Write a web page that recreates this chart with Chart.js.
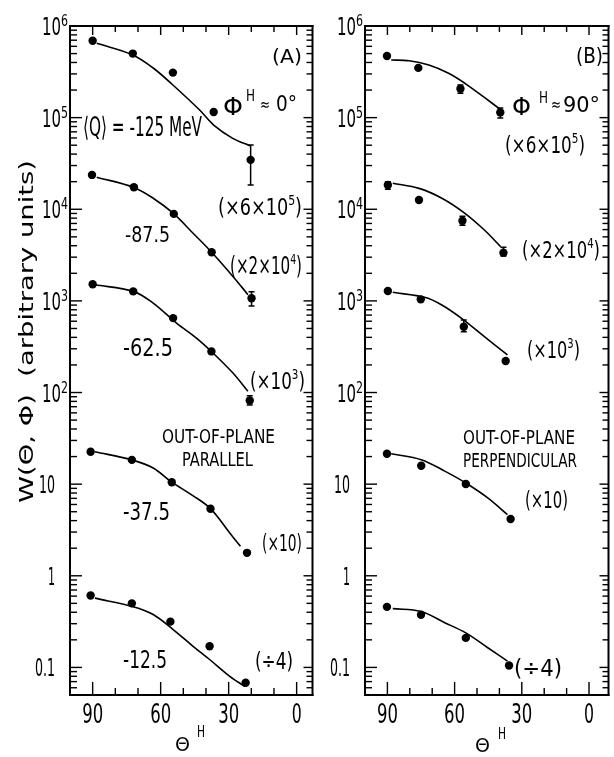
<!DOCTYPE html>
<html><head><meta charset="utf-8">
<script src="https://cdn.jsdelivr.net/npm/chart.js@4.4.1/dist/chart.umd.min.js"></script>
<style>
html,body{margin:0;padding:0;background:#fff;}
#wrap{position:relative;width:614px;height:757px;overflow:hidden;background:#fff;}
canvas{position:absolute;top:0;}
#ca{left:0;} #cb{left:318px;}
</style></head><body>
<div id="wrap"><canvas id="ca" width="318" height="757"></canvas><canvas id="cb" width="296" height="757"></canvas></div>
<script>
// ---------- DATA: panel (A) out-of-plane parallel, Phi^H ~ 0 deg ----------
const aQ = ['-125', '-87.5', '-62.5', '-37.5', '-12.5'];
const aAng1 = [90, 72.3, 54.6, 36.6, 20.3];
const aVal1 = [6.9e5, 5.0e5, 3.1e5, 1.15e5, 3.46e4];
const aAng2 = [90.3, 71.8, 54.2, 37.5, 19.9];
const aVal2 = [2.37e4, 1.74e4, 8.9e3, 3.4e3, 1.07e3];
const aAng3 = [90, 72.1, 54.5, 37.6, 20.7];
const aVal3 = [1520, 1270, 649, 281, 82];
const aAng4 = [90.9, 72.7, 55.1, 38.0, 21.9];
const aVal4 = [22.6, 18.4, 10.5, 5.4, 1.78];
const aAng5 = [90.9, 72.7, 55.7, 38.4, 22.5];
const aVal5 = [0.61, 0.50, 0.316, 0.17, 0.068];
// fitted curves
const aCAng1 = [88.2, 72.3, 63.3, 54.6, 42.8, 36.6, 28.2, 20.7];
const aCVal1 = [6.47e5, 4.83e5, 3.48e5, 2.27e5, 1.21e5, 8.3e4, 5.94e4, 4.94e4];
const aCAng2 = [88.2, 72.1, 63.3, 54.5, 45.7, 37.5, 28.1, 21.5];
const aCVal2 = [2.24e4, 1.74e4, 1.32e4, 9.06e3, 5.48e3, 3.4e3, 1.85e3, 1.17e3];
const aCAng3 = [89.0, 72.1, 63.3, 53.0, 44.2, 36.9, 28.1, 21.5];
const aCVal3 = [1500, 1270, 946, 573, 393, 270, 163, 103];
const aCAng4 = [89.0, 72.7, 63.3, 55.1, 45.8, 38.0, 29.5, 24.8];
const aCVal4 = [22.6, 18.4, 15.0, 10.5, 7.5, 5.4, 2.93, 2.10];
const aCAng5 = [89.0, 72.1, 63.3, 54.5, 45.7, 38.4, 29.5, 22.9];
const aCVal5 = [0.57, 0.46, 0.378, 0.259, 0.170, 0.122, 0.080, 0.062];
// error bars
const aErrAng = [20.3, 19.9, 20.7];
const aErrLo = [1.84e4, 880, 73];
const aErrHi = [5.02e4, 1260, 92];

// ---------- DATA: panel (B) out-of-plane perpendicular, Phi^H ~ 90 deg ----------
const bAng1 = [90.2, 76.2, 57.4, 39.6];
const bVal1 = [4.71e5, 3.49e5, 2.07e5, 1.14e5];
const bAng2 = [89.8, 75.9, 56.5, 38.2];
const bVal2 = [1.84e4, 1.26e4, 7.5e3, 3.36e3];
const bAng3 = [89.8, 75.1, 55.9, 37.2];
const bVal3 = [1280, 1040, 522, 221];
const bAng4 = [90.2, 74.9, 55.0, 35.0];
const bVal4 = [21.5, 15.9, 10.05, 4.17];
const bAng5 = [90.2, 75.0, 55.0, 35.7];
const bVal5 = [0.458, 0.375, 0.210, 0.105];
const bCAng1 = [88.3, 80.3, 71.5, 62.7, 55.4, 46.7, 38.6];
const bCVal1 = [4.26e5, 4.18e5, 3.75e5, 3.05e5, 2.37e5, 1.66e5, 1.18e5];
const bCAng2 = [87.6, 75.9, 65.7, 55.4, 46.7, 39.4];
const bCVal2 = [1.92e4, 1.69e4, 1.32e4, 9.04e3, 5.94e3, 3.9e3];
const bCAng3 = [87.6, 73.0, 65.7, 56.9, 46.7, 36.4];
const bCVal3 = [1240, 1090, 902, 645, 407, 257];
const bCAng4 = [88.3, 74.9, 64.2, 55.0, 45.2, 36.4];
const bCVal4 = [21.5, 18.5, 13.8, 10.3, 7.08, 4.65];
const bCAng5 = [87.6, 75.0, 64.2, 55.0, 45.2, 36.4];
const bCVal5 = [0.438, 0.407, 0.306, 0.238, 0.164, 0.117];
const bErrAng = [57.4, 39.6, 89.8, 56.5, 38.2, 55.9];
const bErrLo = [1.84e5, 0.99e5, 1.65e4, 6.7e3, 3.09e3, 461];
const bErrHi = [2.27e5, 1.27e5, 2.0e4, 8.4e3, 3.85e3, 620];

// ticks
const xTicks = [90, 60, 30, 0];
const yTicks = [0.1, 1, 10, 100, 1e3, 1e4, 1e5, 1e6];

const FAM = "'Liberation Sans Narrow','DejaVu Sans Condensed','Liberation Sans','DejaVu Sans',sans-serif";

function pts(xs, ys){ return xs.map((v,i)=>({x:v, y:ys[i]})); }
function curveDs(xs, ys){ return {data:pts(xs,ys), showLine:true, borderColor:'#000', borderWidth:1.6, pointRadius:0, tension:0.35, fill:false, order:2}; }
function pointDs(xs, ys){ return {data:pts(xs,ys), showLine:false, pointRadius:4.2, pointBackgroundColor:'#000', pointBorderWidth:0, borderColor:'#000', order:1}; }
function errDs(a, lo, hi){ return {data:[{x:a,y:lo},{x:a,y:hi}], showLine:true, borderColor:'#000', borderWidth:1.5, pointStyle:'line', pointRadius:3, pointBorderWidth:1.5, pointBorderColor:'#000', order:0}; }

function drawRich(ctx, it){
  let total = 0; const segs = [];
  for (const p of it.parts){
    const sz = p.sup ? (it.supSize || it.size*0.62) : it.size;
    ctx.font = sz + 'px ' + FAM;
    const w = ctx.measureText(p.t).width;
    segs.push({t:p.t, sup:p.sup, sz, w}); total += w;
  }
  const sx = it.w ? it.w/total : (it.sx || 1);
  const tw = total*sx;
  let x0 = it.x;
  if (it.align === 'center') x0 = it.x - tw/2;
  else if (it.align === 'right') x0 = it.x - tw;
  ctx.save();
  ctx.translate(x0, it.y);
  if (it.rot) ctx.rotate(it.rot);
  ctx.scale(sx, 1);
  ctx.textBaseline = 'alphabetic'; ctx.textAlign = 'left';
  let cx = 0;
  for (const s of segs){
    ctx.font = s.sz + 'px ' + FAM;
    ctx.fillText(s.t, cx, s.sup ? -(it.supRaise || it.size*0.42) : 0);
    cx += s.w;
  }
  ctx.restore();
}

const decor = {
  id:'decor',
  afterDraw(chart, args, o){
    const ctx = chart.ctx, ca = chart.chartArea;
    const xs = chart.scales.x, ys = chart.scales.y;
    ctx.save();
    ctx.fillStyle = '#000';
    const L = ca.left, R = ca.right, Tp = ca.top, B = ca.bottom;
    ctx.fillRect(L-1, Tp-1, R-L+2, 2);
    ctx.fillRect(L-1, B-1, R-L+2, 2);
    ctx.fillRect(L-1, Tp-1, 2, B-Tp+2);
    ctx.fillRect(R-1, Tp-1, 2, B-Tp+2);
    for (let d=-2; d<=6; d++){
      for (let m=1; m<=9; m++){
        const v = m*Math.pow(10,d);
        if (v < 0.0499 || v > 1.001e6) continue;
        const py = ys.getPixelForValue(v);
        const lenL = (m===1) ? 12 : 7, lenR = (m===1) ? 9 : 6;
        ctx.fillRect(L, py-0.7, lenL, 1.4);
        ctx.fillRect(R-lenR, py-0.7, lenR, 1.4);
      }
    }
    for (let v=0; v<=90; v+=10){
      const px = xs.getPixelForValue(v);
      const major = (v%30===0);
      ctx.fillRect(px-0.7, B-(major?13:7), 1.4, major?13:7);
      ctx.fillRect(px-0.7, Tp, 1.4, major?9:6);
    }
    for (const v of xTicks){
      drawRich(ctx, {parts:[{t:String(v)}], x:xs.getPixelForValue(v), y:B+28, size:27, w:(v<10?10:21), align:'center'});
    }
    for (const v of yTicks){
      const e = Math.round(Math.log10(v));
      const py = ys.getPixelForValue(v);
      if (e >= 2){
        drawRich(ctx, {parts:[{t:'10'}], x:L-9, y:py+9, size:25, w:19, align:'right'});
        drawRich(ctx, {parts:[{t:String(e)}], x:L-9, y:py, size:15, w:7});
      } else {
        const s = e===-1 ? '0.1' : e===0 ? '1' : '10';
        const w = e===-1 ? 20 : e===0 ? 7 : 16;
        drawRich(ctx, {parts:[{t:s}], x:L-15, y:py+9, size:25, w, align:'right'});
      }
    }
    for (const it of o.texts) drawRich(ctx, it);
    ctx.restore();
  }
};

function T(t, x, y, size, w, extra){ return Object.assign({parts:typeof t==='string'?[{t}]:t, x, y, size, w}, extra||{}); }

function makeChart(id, series, errs, xmin, yW, padRight, texts){
  const datasets = [];
  for (const s of series){ datasets.push(curveDs(s.ca, s.cv)); datasets.push(pointDs(s.a, s.v)); }
  for (let i=0;i<errs.a.length;i++) datasets.push(errDs(errs.a[i], errs.lo[i], errs.hi[i]));
  return new Chart(document.getElementById(id), {
    type:'line',
    data:{datasets},
    options:{
      responsive:false, animation:false, devicePixelRatio:1,
      layout:{padding:{top:26, right:padRight, left:0, bottom:0}},
      plugins:{legend:{display:false}, tooltip:{enabled:false}, decor:{texts}},
      scales:{
        x:{type:'linear', reverse:true, min:xmin, max:100,
           grid:{display:false, drawTicks:false}, border:{display:false},
           afterBuildTicks:(s)=>{ s.ticks = xTicks.map(value=>({value})); },
           afterFit:(s)=>{ s.height = 62; },
           ticks:{display:false}},
        y:{type:'logarithmic', min:0.05, max:1e6,
           grid:{display:false, drawTicks:false}, border:{display:false},
           afterBuildTicks:(s)=>{ s.ticks = yTicks.map(value=>({value})); },
           afterFit:(s)=>{ s.width = yW; },
           ticks:{display:false}}
      }
    },
    plugins:[decor]
  });
}

const sup = (t)=>({t, sup:true});
const textsA = [
  T('(A)', 272, 63, 20, 30),
  T('\u03A6', 223, 115, 25, 20), T('H', 246, 101, 16, 9), T('\u2248', 260, 110, 16, 10), T('0\u00B0', 276, 111, 22, 21),
  T('\u27E8Q\u27E9 = ' + aQ[0] + ' MeV', 83, 136, 27, 119),
  T([{t:'(\u00D76\u00D710'}, sup('5'), {t:')'}], 218, 215, 23, 84),
  T(aQ[1], 125, 242, 22, 45),
  T([{t:'(\u00D72\u00D710'}, sup('4'), {t:')'}], 230, 274, 24, 72),
  T(aQ[2], 123, 356, 25, 50),
  T([{t:'(\u00D710'}, sup('3'), {t:')'}], 250, 389, 23, 55),
  T('OUT-OF-PLANE', 162, 443, 20, 113),
  T('PARALLEL', 182, 466, 20, 71),
  T(aQ[3], 123, 520, 24, 47),
  T('(\u00D710)', 262, 551, 23, 40),
  T(aQ[4], 123, 668, 24, 44),
  T('(\u00F74)', 255, 669, 23, 38),
  T('\u0398', 175, 751, 19, 15), T('H', 197, 737, 16, 8),
  T('W(\u0398, \u03A6)  (arbitrary units)', 33, 503, 20, 343, {rot:-Math.PI/2})
];
const BX = 318;
const textsB = [
  T('(B)', 576-BX, 63, 21, 27),
  T('\u03A6', 512-BX, 115, 25, 19), T('H', 539-BX, 103, 16, 9), T('\u2248', 551-BX, 110, 16, 10), T('90\u00B0', 563-BX, 112, 22, 37),
  T([{t:'(\u00D76\u00D710'}, sup('5'), {t:')'}], 505-BX, 153, 23, 80),
  T([{t:'(\u00D72\u00D710'}, sup('4'), {t:')'}], 522-BX, 258, 23, 78),
  T([{t:'(\u00D710'}, sup('3'), {t:')'}], 527-BX, 358, 23, 53),
  T('OUT-OF-PLANE', 463-BX, 444, 20, 112),
  T('PERPENDICULAR', 463-BX, 467, 20, 114),
  T('(\u00D710)', 525-BX, 508, 23, 43),
  T('(\u00F74)', 514-BX, 676, 23, 48),
  T('\u0398', 475-BX, 752, 19, 15), T('H', 498-BX, 739, 16, 8)
];

makeChart('ca', [
  {a:aAng1, v:aVal1, ca:aCAng1, cv:aCVal1},
  {a:aAng2, v:aVal2, ca:aCAng2, cv:aCVal2},
  {a:aAng3, v:aVal3, ca:aCAng3, cv:aCVal3},
  {a:aAng4, v:aVal4, ca:aCAng4, cv:aCVal4},
  {a:aAng5, v:aVal5, ca:aCAng5, cv:aCVal5}
], {a:aErrAng, lo:aErrLo, hi:aErrHi}, -7, 70, 5, textsA);

makeChart('cb', [
  {a:bAng1, v:bVal1, ca:bCAng1, cv:bCVal1},
  {a:bAng2, v:bVal2, ca:bCAng2, cv:bCVal2},
  {a:bAng3, v:bVal3, ca:bCAng3, cv:bCVal3},
  {a:bAng4, v:bVal4, ca:bCAng4, cv:bCVal4},
  {a:bAng5, v:bVal5, ca:bCAng5, cv:bCVal5}
], {a:bErrAng, lo:bErrLo, hi:bErrHi}, -8.7, 47, 1, textsB);
</script>
</body></html>
